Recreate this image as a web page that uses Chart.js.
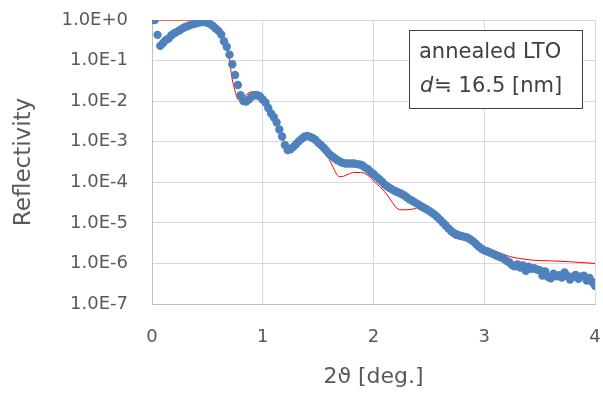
<!DOCTYPE html>
<html>
<head>
<meta charset="utf-8">
<script src="https://cdn.jsdelivr.net/npm/chart.js@4"></script>
<style>
  html, body { margin: 0; padding: 0; background: #fff; }
  #xrr { display: block; }
</style>
</head>
<body>
<canvas id="xrr" width="603" height="394"></canvas>
<script>
// measured reflectivity, 2theta scan (deg.)
const measAngle = [
  0, 0.025, 0.05, 0.075, 0.1, 0.125, 0.15, 0.175, 0.2, 0.225,
  0.25, 0.275, 0.3, 0.325, 0.35, 0.375, 0.4, 0.425, 0.45, 0.475,
  0.5, 0.525, 0.55, 0.575, 0.6, 0.625, 0.65, 0.675, 0.7, 0.725,
  0.75, 0.775, 0.8, 0.825, 0.85, 0.875, 0.9, 0.925, 0.95, 0.975,
  1, 1.025, 1.05, 1.075, 1.1, 1.125, 1.15, 1.175, 1.2, 1.225,
  1.25, 1.275, 1.3, 1.325, 1.35, 1.375, 1.4, 1.425, 1.45, 1.475,
  1.5, 1.525, 1.55, 1.575, 1.6, 1.625, 1.65, 1.675, 1.7, 1.725,
  1.75, 1.775, 1.8, 1.825, 1.85, 1.875, 1.9, 1.925, 1.95, 1.975,
  2, 2.025, 2.05, 2.075, 2.1, 2.125, 2.15, 2.175, 2.2, 2.225,
  2.25, 2.275, 2.3, 2.325, 2.35, 2.375, 2.4, 2.425, 2.45, 2.475,
  2.5, 2.525, 2.55, 2.575, 2.6, 2.625, 2.65, 2.675, 2.7, 2.725,
  2.75, 2.775, 2.8, 2.825, 2.85, 2.875, 2.9, 2.925, 2.95, 2.975,
  3, 3.025, 3.05, 3.075, 3.1, 3.125, 3.15, 3.175, 3.2, 3.225,
  3.25, 3.275, 3.3, 3.325, 3.35, 3.375, 3.4, 3.425, 3.45, 3.475,
  3.5, 3.525, 3.55, 3.575, 3.6, 3.625, 3.65, 3.675, 3.7, 3.725,
  3.75, 3.775, 3.8, 3.825, 3.85, 3.875, 3.9, 3.925, 3.95, 3.975, 4
];
const measR = [
  1, 1, 0.43, 0.23, 0.27, 0.32, 0.35, 0.42, 0.47, 0.51,
  0.56, 0.62, 0.67, 0.71, 0.76, 0.79, 0.83, 0.87, 0.89, 0.89,
  0.85, 0.79, 0.71, 0.62, 0.54, 0.44, 0.30, 0.22, 0.14, 8.1e-2,
  4.4e-2, 2.5e-2, 1.4e-2, 1.0e-2, 9.8e-3, 1.1e-2, 1.3e-2, 1.4e-2, 1.4e-2, 1.3e-2,
  1.1e-2, 9.3e-3, 6.8e-3, 5.0e-3, 4.0e-3, 3.0e-3, 2.0e-3, 1.35e-3, 8.3e-4, 6.2e-4,
  6.5e-4, 7.4e-4, 8.7e-4, 1.02e-3, 1.17e-3, 1.32e-3, 1.38e-3, 1.32e-3, 1.23e-3, 1.12e-3,
  9.5e-4, 8.3e-4, 7.1e-4, 6.0e-4, 5.0e-4, 4.4e-4, 3.9e-4, 3.5e-4, 3.2e-4, 3.0e-4,
  2.9e-4, 2.9e-4, 2.9e-4, 2.9e-4, 2.8e-4, 2.75e-4, 2.6e-4, 2.3e-4, 2.1e-4, 1.8e-4,
  1.6e-4, 1.38e-4, 1.2e-4, 1.05e-4, 8.9e-5, 7.9e-5, 7.1e-5, 6.5e-5, 6.0e-5, 5.6e-5,
  5.2e-5, 4.8e-5, 4.3e-5, 3.8e-5, 3.5e-5, 3.2e-5, 2.9e-5, 2.6e-5, 2.4e-5, 2.2e-5,
  2.0e-5, 1.8e-5, 1.6e-5, 1.4e-5, 1.2e-5, 1.02e-5, 8.7e-6, 7.4e-6, 6.3e-6, 5.6e-6,
  5.2e-6, 4.9e-6, 4.7e-6, 4.5e-6, 4.3e-6, 3.9e-6, 3.5e-6, 3.0e-6, 2.6e-6, 2.3e-6,
  2.1e-6, 2.0e-6, 1.86e-6, 1.74e-6, 1.62e-6, 1.51e-6, 1.41e-6, 1.32e-6, 1.17e-6, 1.07e-6,
  9.1e-7, 8.5e-7, 9.5e-7, 7.9e-7, 8.9e-7, 6.6e-7, 8.3e-7, 7.4e-7, 7.6e-7, 7.1e-7,
  6.8e-7, 5.0e-7, 6.3e-7, 4.7e-7, 4.3e-7, 5.6e-7, 4.8e-7, 5.1e-7, 4.5e-7, 6.0e-7,
  5.0e-7, 4.0e-7, 4.7e-7, 5.2e-7, 4.2e-7, 4.8e-7, 5.0e-7, 3.8e-7, 4.4e-7, 3.5e-7, 2.8e-7
];

// simulated curve (red line)
const fitAngle = [0, 0.4, 0.45, 0.5, 0.55, 0.6, 0.65, 0.7, 0.72, 0.75, 0.78, 0.82, 0.86, 0.91, 0.96,
  1.0, 1.05, 1.1, 1.15, 1.21, 1.25, 1.3, 1.35, 1.4, 1.45, 1.5, 1.575, 1.63, 1.69, 1.73, 1.77, 1.82, 1.87, 1.92, 1.97,
  2.01, 2.1, 2.16, 2.21, 2.26, 2.3, 2.36, 2.42, 2.48, 2.54, 2.6, 2.66, 2.72, 2.78, 2.84, 2.91, 2.98,
  3.05, 3.11, 3.2, 3.26, 3.35, 3.44, 3.62, 3.77, 4.0];
const fitR = [1, 1, 0.93, 0.85, 0.71, 0.52, 0.28, 0.10, 4.0e-2, 1.8e-2, 1.07e-2, 1.12e-2, 1.51e-2, 1.7e-2, 1.51e-2,
  1.2e-2, 7.1e-3, 4.0e-3, 2.0e-3, 8.3e-4, 7.9e-4, 9.3e-4, 1.15e-3, 1.32e-3, 1.2e-3, 8.9e-4, 5.1e-4, 2.5e-4, 1.38e-4, 1.41e-4, 1.58e-4, 1.74e-4, 1.74e-4, 1.66e-4, 1.32e-4,
  1.02e-4, 5.9e-5, 3.5e-5, 2.3e-5, 2.1e-5, 2.1e-5, 2.2e-5, 2.4e-5, 2.0e-5, 1.41e-5, 9.8e-6, 6.6e-6, 4.4e-6, 4.0e-6, 3.8e-6, 3.2e-6, 2.3e-6,
  2.1e-6, 1.95e-6, 1.58e-6, 1.41e-6, 1.29e-6, 1.2e-6, 1.15e-6, 1.1e-6, 1.0e-6];

const decades = [1e-7, 1e-6, 1e-5, 1e-4, 1e-3, 1e-2, 1e-1, 1];
const xTicks = [0, 1, 2, 3, 4];

const FONT = '"DejaVu Sans", sans-serif';

// text box in the upper right corner
const noteBox = {
  id: 'noteBox',
  afterDraw(chart) {
    const c = chart.ctx;
    const a = chart.chartArea;
    const x0 = a.right - 186, y0 = a.top + 10, w = 173, h = 78;
    c.save();
    c.fillStyle = '#ffffff';
    c.fillRect(x0, y0, w, h);
    c.strokeStyle = '#404040';
    c.lineWidth = 1;
    c.strokeRect(x0 + 0.5, y0 + 0.5, w, h);
    c.fillStyle = '#404040';
    c.textBaseline = 'middle';
    c.font = '21px ' + FONT;
    c.fillText('annealed LTO', x0 + 10, y0 + 23);
    c.font = 'italic 21px ' + FONT;
    c.fillText('d', x0 + 11, y0 + 57);
    const dw = c.measureText('d').width;
    c.font = '21px ' + FONT;
    c.fillText('\u2252 16.5 [nm]', x0 + 11 + dw + 1, y0 + 57);
    c.restore();
  }
};

// tick padding would otherwise widen the outer margins
function noPad(s) {
  s.paddingTop = 0; s.paddingBottom = 0; s.paddingLeft = 0; s.paddingRight = 0;
}

new Chart(document.getElementById('xrr'), {
  type: 'scatter',
  data: {
    datasets: [{
      label: 'measured',
      data: measAngle.map((a, i) => ({ x: a, y: measR[i] })),
      backgroundColor: '#4f81bd', borderWidth: 0,
      pointRadius: 4.2, showLine: false, order: 0
    }, {
      label: 'simulation',
      data: fitAngle.map((a, i) => ({ x: a, y: fitR[i] })),
      borderColor: '#ff0000', borderWidth: 1, pointRadius: 0,
      showLine: true, cubicInterpolationMode: 'monotone', order: 1
    }]
  },
  options: {
    responsive: false, animation: false,
    layout: { padding: { left: 0, right: 8, top: 20, bottom: 0 } },
    plugins: { legend: { display: false }, tooltip: { enabled: false } },
    scales: {
      x: {
        type: 'linear', min: 0, max: 4,
        afterBuildTicks: s => { s.ticks = xTicks.map(v => ({ value: v })); },
        afterFit: s => { s.height = 90; noPad(s); },
        grid: { color: '#d9d9d9', drawTicks: false },
        border: { color: '#bfbfbf' },
        ticks: { padding: 23, color: '#595959', font: { family: FONT, size: 18 }, callback: v => String(v) },
        title: { display: true, text: '2\u03d1 [deg.]', color: '#595959',
                 font: { family: FONT, size: 22 }, padding: { top: 0, bottom: 4 } }
      },
      y: {
        type: 'logarithmic', min: 1e-7, max: 1,
        afterBuildTicks: s => { s.ticks = decades.map(v => ({ value: v })); },
        afterFit: s => { s.width = 152; noPad(s); },
        grid: { color: '#d9d9d9', drawTicks: false },
        border: { color: '#bfbfbf' },
        ticks: { padding: 24, color: '#595959', font: { family: FONT, size: 18 },
                 callback: v => v.toExponential(1).toUpperCase() },
        title: { display: true, text: 'Reflectivity', color: '#595959',
                 font: { family: FONT, size: 23 }, padding: { top: 10, bottom: 0 } }
      }
    }
  },
  plugins: [noteBox]
});
</script>
</body>
</html>
